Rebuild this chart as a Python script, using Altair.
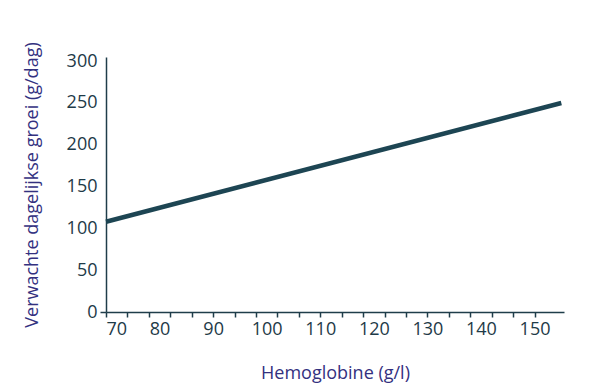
import altair as alt
import pandas as pd

# Data
hb = [70, 155]
growth = [108, 250]
x_tick_values = list(range(70, 152, 2))  # ticks every 4, labels every 10
y_tick_values = [0, 50, 100, 150, 200, 250, 300]

df = pd.DataFrame({"hb": hb, "growth": growth})

axis_color = "#1f3d4a"
label_color = "#1e3a48"
title_color = "#33317f"
font = "Open Sans"

chart = alt.Chart(df).mark_line(color="#1d4553", strokeWidth=4.6).encode(
    x=alt.X(
        "hb:Q",
        scale=alt.Scale(domain=[70, 155.5], nice=False, zero=False),
        axis=alt.Axis(
            title="Hemoglobine (g/l)",
            values=x_tick_values,
            labelExpr="datum.value % 10 == 0 ? datum.label : ''",
            labelOverlap=False,
            tickOpacity={"condition": {"test": "(datum.value - 70) % 4 == 0", "value": 1}, "value": 0},
            grid=False,
            tickSize=5,
            labelPadding=3,
            titlePadding=26,
        ),
    ),
    y=alt.Y(
        "growth:Q",
        scale=alt.Scale(domain=[0, 305], nice=False),
        axis=alt.Axis(
            title="Verwachte dagelijkse groei (g/dag)",
            values=y_tick_values,
            tickOpacity={"condition": {"test": "datum.value == 0", "value": 1}, "value": 0},
            grid=False,
            tickSize=6,
            labelPadding=3,
            titlePadding=25,
        ),
    ),
).properties(
    width=458,
    height=255,
    padding={"left": 15, "top": 33, "right": 5, "bottom": 5},
).configure_view(
    stroke=None
).configure_axis(
    domainColor=axis_color,
    tickColor=axis_color,
    domainWidth=1.5,
    tickWidth=1.5,
    labelColor=label_color,
    labelFont=font,
    labelFontSize=18,
    titleColor=title_color,
    titleFont=font,
    titleFontSize=18,
    titleFontWeight="normal",
)

chart.save("out.html", embed_options={"renderer": "svg", "actions": False})
